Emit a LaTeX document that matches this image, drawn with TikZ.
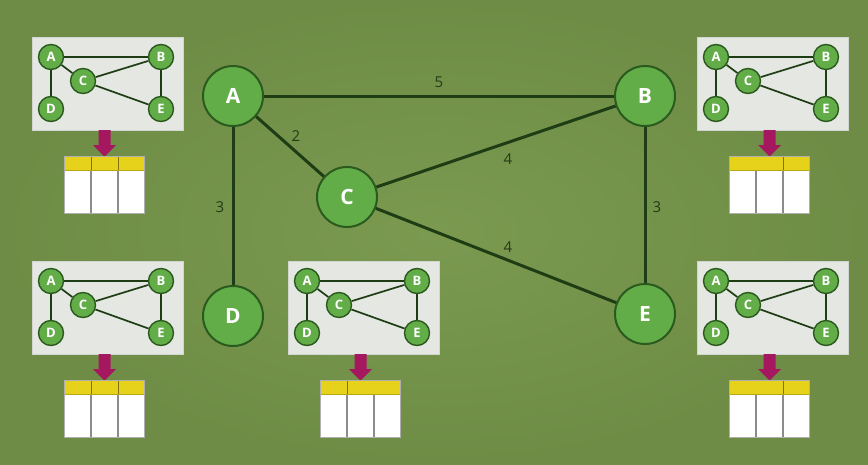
\documentclass[tikz,border=0pt]{standalone}
\usepackage{fontspec}
\setmainfont{Open Sans}
\definecolor{bgin}{HTML}{7B9A50}
\definecolor{bgout}{HTML}{6E8C45}
\definecolor{nodefill}{HTML}{63AD49}
\definecolor{nodeline}{HTML}{2A5A1E}
\definecolor{edgecol}{HTML}{1E3D14}
\definecolor{lblcol}{HTML}{263A18}
\definecolor{cardfill}{HTML}{E5E7E2}
\definecolor{hdr}{HTML}{E6D21A}
\definecolor{arrowcol}{HTML}{A5175E}
\definecolor{divcol}{HTML}{8C8C8C}
\tikzset{
  big/.style={circle, fill=nodefill, draw=nodeline, line width=2pt, minimum size=60pt, inner sep=0pt, text=white, font=\fontsize{21}{21}\selectfont\bfseries},
  small/.style={circle, fill=nodefill, draw=nodeline, line width=1.4pt, minimum size=25pt, inner sep=0pt, text=white, font=\fontsize{13}{13}\selectfont\bfseries},
  bigedge/.style={draw=edgecol, line width=3pt},
  smalledge/.style={draw=edgecol, line width=1.7pt},
  lbl/.style={text=lblcol, font=\fontsize{15}{15}\selectfont, inner sep=0pt},
  cardbox/.style={fill=cardfill, draw=cardfill!92!black, line width=0.6pt},
  divline/.style={draw=divcol, line width=1.4pt},
  hdrline/.style={draw=hdr!55!black, line width=1pt},
}
% #1 name, #2 x, #3 y, #4 header divider 1, #5 header divider 2
\newcommand\minicard[5]{%
  \begin{scope}[shift={(#2,#3)}]
    \draw[cardbox] (0,0) rectangle (151,93);
    \node[small] (#1A) at (19,20) {A};
    \node[small] (#1B) at (129,20) {B};
    \node[small] (#1C) at (51,44) {C};
    \node[small] (#1D) at (19,72) {D};
    \node[small] (#1E) at (129,72) {E};
    \draw[smalledge] (#1A) -- (#1B);
    \draw[smalledge] (#1A) -- (#1C);
    \draw[smalledge] (#1A) -- (#1D);
    \draw[smalledge] (#1C) -- (#1B);
    \draw[smalledge] (#1C) -- (#1E);
    \draw[smalledge] (#1B) -- (#1E);
    \fill[arrowcol] (66.5,93) -- (78.5,93) -- (78.5,108) -- (84,108) -- (72.5,119.5) -- (61,108) -- (66.5,108) -- cycle;
    \fill[hdr] (32,119) rectangle (112,133);
    \fill[white] (32,133) rectangle (112,176);
    \draw[divline] (59,133) -- (59,176);
    \draw[divline] (86,133) -- (86,176);
    \ifnum#4=1 \draw[hdrline] (59,119) -- (59,133);\fi
    \ifnum#5=1 \draw[hdrline] (86,119) -- (86,133);\fi
    \draw[draw=hdr!80!black, line width=0.6pt] (32,133) -- (112,133);
    \draw[draw=divcol!70, line width=0.6pt] (32,119) rectangle (112,176);
  \end{scope}}
\begin{document}
\begin{tikzpicture}[x=1pt, y=-1pt]
  \useasboundingbox (0,0) rectangle (868,464);
  \shade[inner color=bgin, outer color=bgout] (0,0) rectangle (868,464);
  % main graph
  \node[big] (A) at (233,96) {A};
  \node[big] (B) at (645,96) {B};
  \node[big] (C) at (347,197) {C};
  \node[big] (D) at (233,316) {D};
  \node[big] (E) at (645,314) {E};
  \draw[bigedge] (A) -- (B);
  \draw[bigedge] (A) -- (C);
  \draw[bigedge] (A) -- (D);
  \draw[bigedge] (C) -- (B);
  \draw[bigedge] (C) -- (E);
  \draw[bigedge] (B) -- (E);
  \node[lbl] (lAB) at (439,82) {5};
  \node[lbl] (lAC) at (296,136) {2};
  \node[lbl] (lAD) at (220,207) {3};
  \node[lbl] (lCB) at (508,159) {4};
  \node[lbl] (lBE) at (657,207) {3};
  \node[lbl] (lCE) at (508,247) {4};
  % mini cards
  \minicard{tl}{32}{37}{1}{1}
  \minicard{tr}{697}{37}{0}{1}
  \minicard{bl}{32}{261}{1}{1}
  \minicard{bm}{288}{261}{1}{0}
  \minicard{br}{697}{261}{0}{1}
\end{tikzpicture}
\end{document}
